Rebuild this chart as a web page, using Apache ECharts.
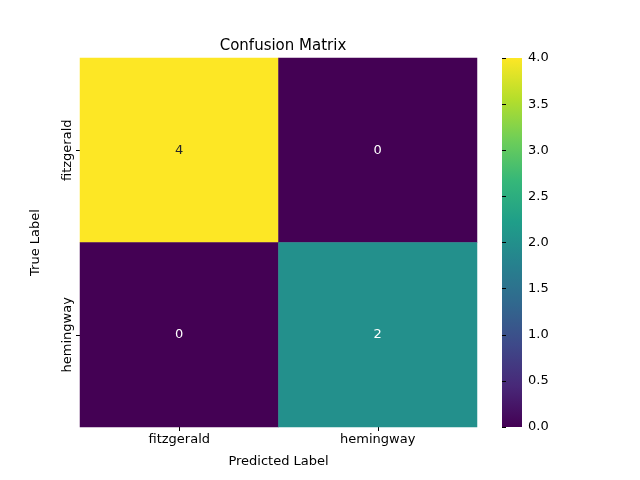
<!DOCTYPE html>
<html>
<head>
<meta charset="utf-8">
<script src="https://cdn.jsdelivr.net/npm/echarts@6/dist/echarts.min.js"></script>
<style>html,body{margin:0;padding:0;background:#fff}#chart{width:640px;height:480px}</style>
</head>
<body>
<div id="chart"></div>
<script>
var predLabels = ['fitzgerald', 'hemingway'];
var trueLabels = ['fitzgerald', 'hemingway'];
// counts[row = true][col = predicted]
var counts = [[4, 0], [0, 2]];
var barTicks = [0, 0.5, 1, 1.5, 2, 2.5, 3, 3.5, 4];

var viridis = ['#440154','#482878','#3e4989','#31688e','#26828e','#1f9e89','#35b779','#6ece58','#b5de2b','#fde725'];
var font = 'DejaVu Sans';

var cells = [];
for (var r = 0; r < trueLabels.length; r++) {
    for (var c = 0; c < predLabels.length; c++) {
        var v = counts[r][c];
        cells.push({value: [c, r, v], label: {color: v > 3 ? '#262626' : '#ffffff'}});
    }
}

var chart = echarts.init(document.getElementById('chart'));
chart.setOption({
    backgroundColor: '#fff',
    animation: false,
    title: {
        text: 'Confusion Matrix', left: 278, top: 34, textAlign: 'center',
        textStyle: {fontFamily: font, fontSize: 15, fontWeight: 'normal', color: '#000'}
    },
    grid: [
        {left: 80, top: 58, width: 397, height: 369},
        {left: 502, top: 58, width: 20, height: 369}
    ],
    xAxis: [{
        type: 'category', data: predLabels, gridIndex: 0,
        name: 'Predicted Label', nameLocation: 'middle', nameGap: 28,
        nameTextStyle: {fontFamily: font, fontSize: 13, color: '#000'},
        axisLine: {show: false}, splitLine: {show: false},
        axisTick: {show: true, alignWithLabel: true, length: 4, lineStyle: {color: '#000'}},
        axisLabel: {fontFamily: font, fontSize: 13, color: '#000', margin: 6}
    }, {
        type: 'value', gridIndex: 1, show: false, min: 0, max: 1
    }],
    yAxis: [{
        type: 'category', data: trueLabels, gridIndex: 0, inverse: true,
        name: 'True Label', nameLocation: 'middle', nameGap: 38, nameRotate: 90,
        nameTextStyle: {fontFamily: font, fontSize: 13, color: '#000'},
        axisLine: {show: false}, splitLine: {show: false},
        axisTick: {show: true, alignWithLabel: true, length: 4, lineStyle: {color: '#000'}},
        axisLabel: {fontFamily: font, fontSize: 13, color: '#000', rotate: 90, margin: 6}
    }, {
        type: 'value', gridIndex: 1, position: 'right', min: 0, max: 4, interval: 0.5,
        axisLine: {show: false}, splitLine: {show: false},
        axisTick: {show: true, length: 4, lineStyle: {color: '#000'}},
        axisLabel: {fontFamily: font, fontSize: 13, color: '#000', margin: 6,
            formatter: function (v) { return v.toFixed(1); }}
    }],
    visualMap: {
        show: false, min: 0, max: 4, seriesIndex: 0, inRange: {color: viridis}
    },
    graphic: [{
        type: 'rect', left: 502, top: 58, silent: true,
        shape: {width: 20, height: 369},
        style: {fill: new echarts.graphic.LinearGradient(0, 1, 0, 0,
            viridis.map(function (c, i) { return {offset: i / (viridis.length - 1), color: c}; }))}
    }],
    series: [{
        type: 'heatmap', xAxisIndex: 0, yAxisIndex: 0, data: cells,
        label: {show: true, fontFamily: font, fontSize: 13},
        itemStyle: {borderWidth: 0}
    }]
});
</script>
</body>
</html>
